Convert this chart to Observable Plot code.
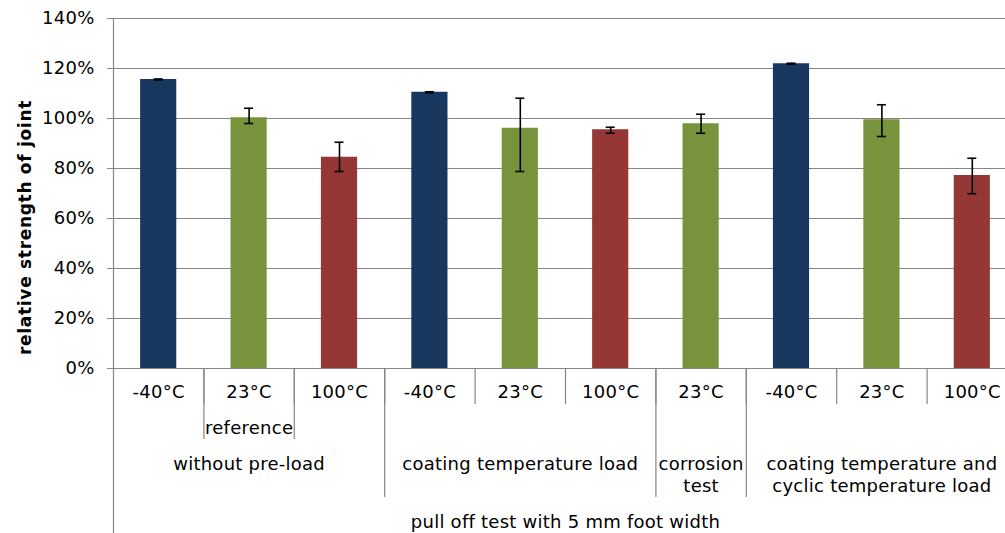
<!DOCTYPE html>
<html><head><meta charset="utf-8">
<script src="https://cdn.jsdelivr.net/npm/d3@7"></script>
<script src="https://cdn.jsdelivr.net/npm/@observablehq/plot@0.6"></script>
<style>
body{margin:0;background:#fff;}
#chart svg{overflow:hidden;display:block;}
#chart svg text{letter-spacing:0.25px;}
#chart svg g[font-weight="bold"] text{letter-spacing:0.7px;}
</style>
</head><body><div id="chart"></div>
<script>
// ---- data ----
const temps = ["-40°C","23°C","100°C","-40°C","23°C","100°C","23°C","-40°C","23°C","100°C"];
const values = [115.6,100.3,84.5,110.5,96.1,95.5,97.9,121.9,99.5,77.2];
const errLow = [115.4,98.0,78.8,110.3,78.8,94.1,94.1,121.7,92.8,69.9];
const errHigh = [115.8,104.1,90.5,110.7,108.1,96.5,101.7,122.1,105.5,84.1];
const tempDomain = ["-40°C","23°C","100°C"];
const tempColors = ["#17375E","#77933C","#953735"];
const yTicks = [0,20,40,60,80,100,120,140];
const subLabels = [{label:"reference", start:1, end:2}];
const groupLabels = [
  {label:"without pre-load", start:0, end:3},
  {label:"coating temperature load", start:3, end:6},
  {label:"corrosion\ntest", start:6, end:7},
  {label:"coating temperature and\ncyclic temperature load", start:7, end:10}
];
const topLabels = [{label:"pull off test with 5 mm foot width", start:0, end:10}];
const yTitle = "relative strength of joint";

// ---- derived tables ----
const bars = temps.map((t,i)=>({i, temp:t, value:values[i], lo:errLow[i], hi:errHigh[i]}));
const inner = d3.range(1, temps.length);
const subBounds = subLabels.flatMap(d=>[d.start,d.end]);
const groupBounds = [...new Set(groupLabels.flatMap(d=>[d.start,d.end]))].filter(b=>b>0);

// depths of the category-axis levels (below 0, in y units)
const depth1 = -14.4, depth2 = -28.4, depth3 = -51.6, depth4 = -66;
const gray = "#868686";
const barW = 0.4, capW = 0.1;
const fs = 18;

const chart = Plot.plot({
  width: 1005,
  height: 533,
  marginLeft: 113,
  marginRight: -12,
  marginTop: 18,
  marginBottom: 165,
  style: {fontFamily: "DejaVu Sans", fontSize: fs + "px", color: "#000", background: "#fff"},
  x: {type: "linear", domain: [0, temps.length], axis: null},
  y: {domain: [0, 140], axis: null},
  color: {domain: tempDomain, range: tempColors},
  marks: [
    Plot.ruleY(yTicks, {stroke: gray, strokeWidth: 1.2}),
    Plot.rectY(bars, {x1: d=>d.i+0.5-barW/2, x2: d=>d.i+0.5+barW/2, y: "value", fill: "temp"}),
    Plot.ruleX(bars, {x: d=>d.i+0.5, y1: "lo", y2: "hi", stroke: "#000", strokeWidth: 1.6}),
    Plot.ruleY(bars, {y: "hi", x1: d=>d.i+0.5-capW/2, x2: d=>d.i+0.5+capW/2, stroke: "#000", strokeWidth: 1.6}),
    Plot.ruleY(bars, {y: "lo", x1: d=>d.i+0.5-capW/2, x2: d=>d.i+0.5+capW/2, stroke: "#000", strokeWidth: 1.6}),
    // y axis
    Plot.ruleX([0], {y1: 140, y2: depth4, stroke: gray, strokeWidth: 1.2}),
    Plot.axisY(yTicks, {tickFormat: d=>d+"%", tickSize: 6, tickPadding: 13, fontSize: fs, stroke: gray, fill: "#000"}),
    // category axis separators
    Plot.ruleX(inner, {y1: 0, y2: depth1, stroke: gray, strokeWidth: 1.2}),
    Plot.ruleX(subBounds, {y1: 0, y2: depth2, stroke: gray, strokeWidth: 1.2}),
    Plot.ruleX(groupBounds, {y1: 0, y2: depth3, stroke: gray, strokeWidth: 1.2}),
    // labels
    Plot.text(bars, {x: d=>d.i+0.5, y: 0, text: "temp", dy: 24, fontSize: fs, fill: "#000"}),
    Plot.text(subLabels, {x: d=>(d.start+d.end)/2, y: 0, text: "label", dy: 60, fontSize: fs, fill: "#000"}),
    Plot.text(groupLabels, {x: d=>(d.start+d.end)/2, y: 0, text: "label", dy: 86, lineAnchor: "top", lineHeight: 1.22, fontSize: fs, fill: "#000"}),
    Plot.text(topLabels, {x: d=>(d.start+d.end)/2, y: 0, text: "label", dy: 154, fontSize: fs, fill: "#000"}),
    Plot.text([yTitle], {frameAnchor: "left", textAnchor: "middle", text: d=>d, rotate: -90, dx: -88, dy: 34, fontSize: 17, fontWeight: "bold", fill: "#000"})
  ]
});
document.getElementById("chart").appendChild(chart);
</script>
</body></html>
